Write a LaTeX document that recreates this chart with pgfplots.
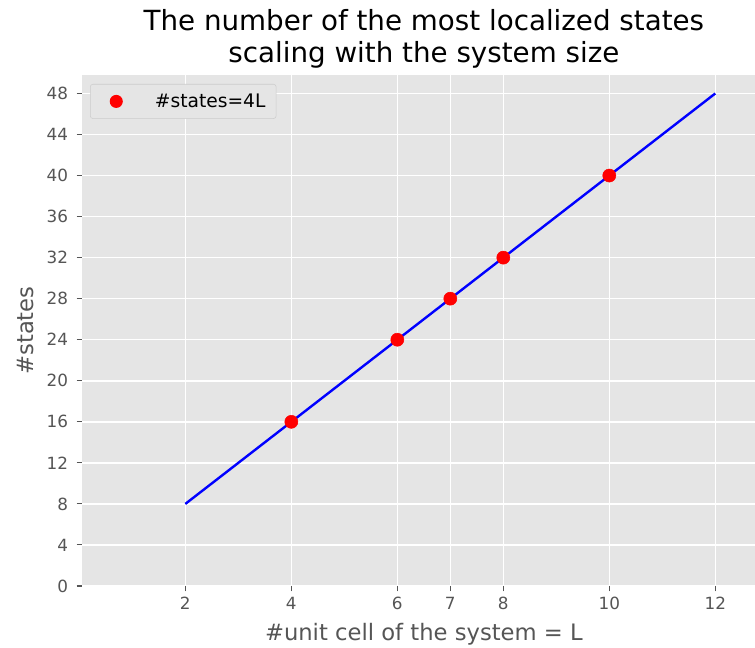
\documentclass[border=0pt]{standalone}
\usepackage{fontspec}
\setmainfont{DejaVu Sans}
\usepackage{pgfplots}
\pgfplotsset{compat=1.18}
\definecolor{bggray}{HTML}{E5E5E5}
\definecolor{txtgray}{HTML}{555555}
\definecolor{legedge}{HTML}{CCCCCC}
\begin{document}
\begin{tikzpicture}
\path[use as bounding box] (-61.5pt,-46.5pt) rectangle (504.75pt,439.5pt);
\begin{axis}[
  at={(0,0)}, anchor=south west,
  scale only axis, width=504.75pt, height=383.25pt,
  xmin=0.05, xmax=12.75, ymin=0, ymax=49.8,
  xtick={2,4,6,7,8,10,12}, ytick={0,4,...,48},
  axis background/.style={fill=bggray},
  axis line style={draw=none},
  grid=major, major grid style={white, line width=1.1pt},
  tick style={txtgray, line width=0.8pt},
  major tick length=4pt, tick align=outside,
  xtick pos=bottom, ytick pos=left,
  /pgf/number format/assume math mode=true,
  ticklabel style={font=\fontsize{12.6}{15}\selectfont, text=txtgray},
  yticklabel style={xshift=-3pt},
  xticklabel style={yshift=-1pt},
  xlabel={\#unit cell of the system = L},
  ylabel={\#states},
  every axis x label/.style={at={(axis description cs:0.508,-0.1076)}, anchor=base,
    font=\fontsize{17}{20}\selectfont, text=txtgray},
  every axis y label/.style={at={(axis description cs:-0.0728,0.5)}, rotate=90, anchor=base,
    font=\fontsize{17}{20}\selectfont, text=txtgray},
  title={The number of the most localized states\\scaling with the system size},
  every axis title/.style={at={(axis description cs:0.508,1)}, anchor=south, yshift=1.5pt,
    font=\fontsize{20.8}{24}\selectfont, align=center},
  legend style={at={(0,1)}, anchor=north west, xshift=6pt, yshift=-6.75pt,
    draw=legedge, fill=bggray, rounded corners=2pt,
    font=\fontsize{14}{16}\selectfont, inner xsep=6pt, inner ysep=5pt},
  legend image code/.code={\path[draw=none] (0pt,0pt) -- (40.5pt,0pt); \fill[red,draw=none] (13.5pt,0pt) circle (4.9pt);},
  legend cell align=left,
]
\addplot[blue, line width=1.8pt, forget plot] coordinates {(2,8) (12,48)};
\addplot[only marks, mark=*, mark size=4.9pt, color=red] coordinates {
(4,16) (6,24) (7,28) (8,32) (10,40)};
\addlegendentry{\#states=4L}
\end{axis}
\end{tikzpicture}
\end{document}
